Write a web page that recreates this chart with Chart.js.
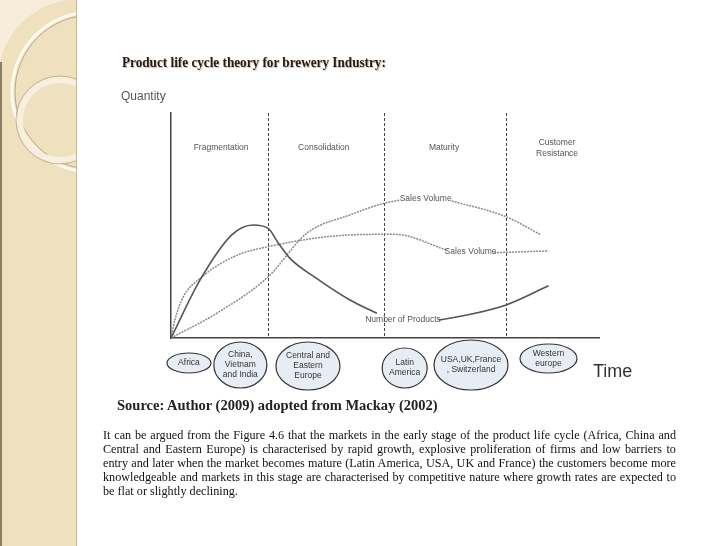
<!DOCTYPE html>
<html>
<head>
<meta charset="utf-8">
<script src="https://cdn.jsdelivr.net/npm/chart.js@4.4.0/dist/chart.umd.min.js"></script>
<style>
  html, body { margin: 0; padding: 0; background: #fff; }
  #page { position: relative; width: 728px; height: 546px; overflow: hidden; background: #fff; }
  #strip { position: absolute; left: 0; top: 0; width: 76px; height: 546px; background: #efe1bd; border-right: 1px solid #c8b78f; }
  #strip svg { position: absolute; left: 0; top: 0; }
  #chartBox { position: absolute; left: 0; top: 0; width: 728px; height: 546px; }
  .title { position: absolute; left: 122px; top: 54px; font: bold 14.5px "Liberation Serif", "Times New Roman", serif; color: #2a1b12; text-shadow: 1px 1px 1px rgba(90, 70, 50, 0.35); white-space: nowrap; transform: scaleX(0.91); transform-origin: left center; }
  .qty { position: absolute; left: 121px; top: 89px; font: 12px "Liberation Sans", Arial, sans-serif; color: #555; }
  .time { position: absolute; left: 593px; top: 361px; font: 18px "Liberation Sans", Arial, sans-serif; color: #333; }
  .source { position: absolute; left: 117px; top: 397px; font: bold 14.5px "Liberation Serif", "Times New Roman", serif; color: #222; white-space: nowrap; }
  .para { position: absolute; left: 103px; top: 429px; width: 545.7px; font: 11.6px/14px "Liberation Serif", "Times New Roman", serif; text-align: justify; color: #111; transform: scaleX(1.05); transform-origin: left top; }
</style>
</head>
<body>
<div id="page">
  <div id="strip">
    <svg width="76" height="546">
      <path d="M0 0 L70 0 A80 80 0 0 0 0 62 Z" fill="#f6eedb"/>
      <circle cx="92" cy="92" r="80" fill="none" stroke="#fffaf0" stroke-width="3"/>
      <circle cx="92" cy="92" r="77" fill="none" stroke="#b9ab8c" stroke-width="1"/>
      <circle cx="60" cy="120" r="40" fill="none" stroke="#f7f0e0" stroke-width="6"/>
      <circle cx="60" cy="120" r="44" fill="none" stroke="#c3b596" stroke-width="1"/>
      <line x1="1" y1="62" x2="1" y2="546" stroke="#8d7f63" stroke-width="2"/>
    </svg>
  </div>
  <div id="chartBox"><canvas id="plc"></canvas></div>
  <div class="title">Product life cycle theory for brewery Industry:</div>
  <div class="qty">Quantity</div>
  <div class="time">Time</div>
  <div class="source">Source: Author (2009) adopted from Mackay (2002)</div>
  <div class="para">It can be argued from the Figure 4.6 that the markets in the early stage of the product life cycle (Africa, China and Central and Eastern Europe) is characterised by rapid growth, explosive proliferation of firms and low barriers to entry and later when the market becomes mature (Latin America, USA, UK and France) the customers become more knowledgeable and markets in this stage are characterised by competitive nature where growth rates are expected to be flat or slightly declining.</div>
</div>
<script>
// stages along the time axis
const phaseNames = ['Fragmentation', 'Consolidation', 'Maturity', 'Customer\nResistance'];
const phaseBounds = [22.7, 49.8, 78.3];

// markets placed under the time axis
const markets = ['Africa', 'China,\nVietnam\nand India', 'Central and\nEastern\nEurope', 'Latin\nAmerica', 'USA,UK,France\n, Switzerland', 'Western\neurope'];
const marketTime = [4.2, 16.2, 32.0, 54.6, 70.1, 88.2];

// curves (time, quantity); null = gap where the label sits
const productsX = [0, 6.8, 14.2, 19.2, 22.7, 25.1, 27.8, 34.0, 41.8, 48.1, 55.0, 62.5, 69.1, 78.3, 88.2];
const productsY = [0, 25.8, 45.8, 50.2, 48.7, 42.1, 35.4, 26.5, 16.9, 11.0, null, 8.0, 10.2, 14.7, 23.2];

const salesUpX = [0, 10.7, 22.7, 31.7, 41.8, 49.8, 53.5, 59.5, 65.6, 78.3, 86.2];
const salesUpY = [0, 11.0, 27.2, 46.5, 54.7, 59.9, 61.3, null, 60.9, 53.9, 46.1];

const salesMidX = [0, 0.9, 2.9, 6.8, 14.6, 22.7, 41.8, 52.3, 64.4, 70.0, 75.5, 88.2];
const salesMidY = [0, 8.0, 18.4, 26.5, 36.1, 40.6, 45.8, 46.1, 39.1, null, 37.9, 38.7];

// ----- layout only (not data) -----
const phaseLabelX = [11.7, 35.7, 63.8, 90.2];
const phaseLabelY = 84.4;
const curveLabels = [
  { text: 'Sales Volume', x: 59.5, y: 61.8 },
  { text: 'Sales Volume', x: 70.0, y: 38.4 },
  { text: 'Number of Products', x: 54.2, y: 8.0 }
];
const ovals = [
  { cy: 363, rx: 22, ry: 10 },
  { cy: 365, rx: 26.5, ry: 23 },
  { cy: 366, rx: 32, ry: 24 },
  { cy: 368, rx: 22.5, ry: 20 },
  { cy: 365, rx: 37, ry: 25 },
  { cy: 358.5, rx: 28.5, ry: 14.5 }
];

const toPts = (xs, ys) => xs.map((x, i) => ({ x: x, y: ys[i] }));
const SMALL = '8.5px "Liberation Sans", Arial, sans-serif';

function drawLines(ctx, lines, cx, cy, lh) {
  const top = cy - (lines.length - 1) * lh / 2;
  lines.forEach((t, i) => ctx.fillText(t, cx, top + i * lh));
}

const decor = {
  id: 'decor',
  beforeDatasetsDraw(chart) {
    const { ctx, chartArea, scales } = chart;
    ctx.save();
    ctx.strokeStyle = '#444';
    ctx.lineWidth = 1;
    ctx.setLineDash([3, 2]);
    phaseBounds.forEach(b => {
      const x = Math.round(scales.x.getPixelForValue(b)) + 0.5;
      ctx.beginPath();
      ctx.moveTo(x, chartArea.top);
      ctx.lineTo(x, chartArea.bottom);
      ctx.stroke();
    });
    ctx.restore();
  },
  afterDatasetsDraw(chart) {
    const { ctx, scales } = chart;
    ctx.save();
    ctx.font = SMALL;
    ctx.textAlign = 'center';
    ctx.textBaseline = 'middle';
    ctx.fillStyle = '#555';
    phaseNames.forEach((n, i) => {
      drawLines(ctx, n.split('\n'), scales.x.getPixelForValue(phaseLabelX[i]), scales.y.getPixelForValue(phaseLabelY), 11);
    });
    curveLabels.forEach(l => {
      ctx.fillText(l.text, scales.x.getPixelForValue(l.x), scales.y.getPixelForValue(l.y));
    });
    // market ovals under the axis
    markets.forEach((m, i) => {
      const o = ovals[i];
      const cx = scales.x.getPixelForValue(marketTime[i]);
      ctx.beginPath();
      ctx.ellipse(cx, o.cy, o.rx, o.ry, 0, 0, Math.PI * 2);
      ctx.fillStyle = '#e8edf5';
      ctx.fill();
      ctx.lineWidth = 1.2;
      ctx.strokeStyle = '#333';
      ctx.stroke();
      ctx.fillStyle = '#333';
      drawLines(ctx, m.split('\n'), cx, o.cy, 10);
    });
    ctx.restore();
  }
};

new Chart(document.getElementById('plc'), {
  type: 'line',
  data: {
    datasets: [
      {
        label: 'Number of Products',
        data: toPts(productsX, productsY),
        borderColor: '#555',
        borderWidth: 1.6,
        cubicInterpolationMode: 'monotone'
      },
      {
        label: 'Sales Volume',
        data: toPts(salesUpX, salesUpY),
        borderColor: '#8a8a8a',
        borderWidth: 1.5,
        borderDash: [2, 1],
        cubicInterpolationMode: 'monotone'
      },
      {
        label: 'Sales Volume',
        data: toPts(salesMidX, salesMidY),
        borderColor: '#8a8a8a',
        borderWidth: 1.5,
        borderDash: [2, 1],
        cubicInterpolationMode: 'monotone'
      }
    ]
  },
  options: {
    responsive: true,
    maintainAspectRatio: false,
    animation: false,
    spanGaps: false,
    layout: { padding: { left: 171, top: 113, right: 129, bottom: 208 } },
    elements: { point: { radius: 0 } },
    scales: {
      x: {
        type: 'linear', min: 0, max: 100,
        grid: { display: false, drawTicks: false },
        ticks: { display: false },
        border: { color: '#444', width: 1.5 }
      },
      y: {
        min: 0, max: 100,
        grid: { display: false, drawTicks: false },
        ticks: { display: false },
        border: { color: '#444', width: 1.5 }
      }
    },
    plugins: { legend: { display: false }, tooltip: { enabled: false } }
  },
  plugins: [decor]
});
</script>
</body>
</html>
